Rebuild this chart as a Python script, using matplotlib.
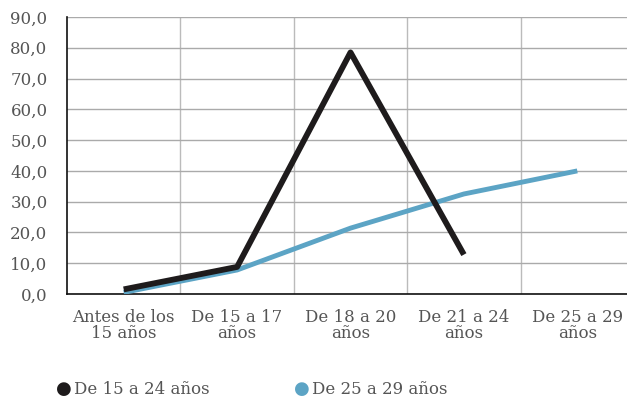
import matplotlib
matplotlib.use("Agg")
import matplotlib.pyplot as plt
import numpy as np

categories = ["Antes de los\n15 años", "De 15 a 17\naños", "De 18 a 20\naños",
              "De 21 a 24\naños", "De 25 a 29\naños"]
serie_15_24 = [1.5, 8.8, 78.5, 12.8]
serie_25_29 = [0.5, 7.8, 21.4, 32.5, 40.0]
yticks = [0, 10, 20, 30, 40, 50, 60, 70, 80, 90]
ytick_labels = ["0,0", "10,0", "20,0", "30,0", "40,0", "50,0", "60,0", "70,0", "80,0", "90,0"]
legend_labels = ["De 15 a 24 años", "De 25 a 29 años"]

W, H = 627, 403
fig = plt.figure(figsize=(W/100, H/100), dpi=100)
left, right, top, bottom = 67, 634, 17, 294
ax = fig.add_axes([left/W, 1 - bottom/H, (right-left)/W, (bottom-top)/H])

font = "DejaVu Serif"
tc = "#555555"
x = np.arange(len(categories))
ax.plot(x[:len(serie_15_24)], serie_15_24, color="#1e1b1c", lw=4.2, solid_capstyle="butt", zorder=4)
ax.plot(x, serie_25_29, color="#5ca4c5", lw=3.5, solid_capstyle="butt", zorder=3)

ax.set_xlim(-0.5, len(categories) - 0.5)
ax.set_ylim(0, 90)
ax.set_yticks(yticks)
ax.set_yticklabels(ytick_labels, fontfamily=font, fontsize=12, color=tc)
ax.set_xticks(x)
ax.set_xticklabels(categories, fontfamily=font, fontsize=12, color=tc, linespacing=0.9)
ax.set_xticks(np.arange(0.5, len(categories) - 0.5, 1), minor=True)
ax.tick_params(axis="both", which="both", length=0)
ax.tick_params(axis="y", pad=14)
ax.tick_params(axis="x", pad=11)
ax.grid(axis="y", which="major", color="#aaaaaa", lw=1)
ax.grid(axis="x", which="minor", color="#bbbbbb", lw=1)
ax.set_axisbelow(True)
for s in ["top", "right"]:
    ax.spines[s].set_visible(False)
for s in ["left", "bottom"]:
    ax.spines[s].set_color("#111111")
    ax.spines[s].set_linewidth(1.2)

# legend
fig.text(64/W, 1 - 389/H, "\u25cf", color="#1e1b1c", fontsize=13, ha="center", va="center", fontfamily="DejaVu Sans")
fig.text(74/W, 1 - 389/H, legend_labels[0], color=tc, fontsize=12, ha="left", va="center", fontfamily=font)
fig.text(302/W, 1 - 389/H, "\u25cf", color="#5ca4c5", fontsize=13, ha="center", va="center", fontfamily="DejaVu Sans")
fig.text(312/W, 1 - 389/H, legend_labels[1], color=tc, fontsize=12, ha="left", va="center", fontfamily=font)

fig.savefig("out.png", dpi=100)
